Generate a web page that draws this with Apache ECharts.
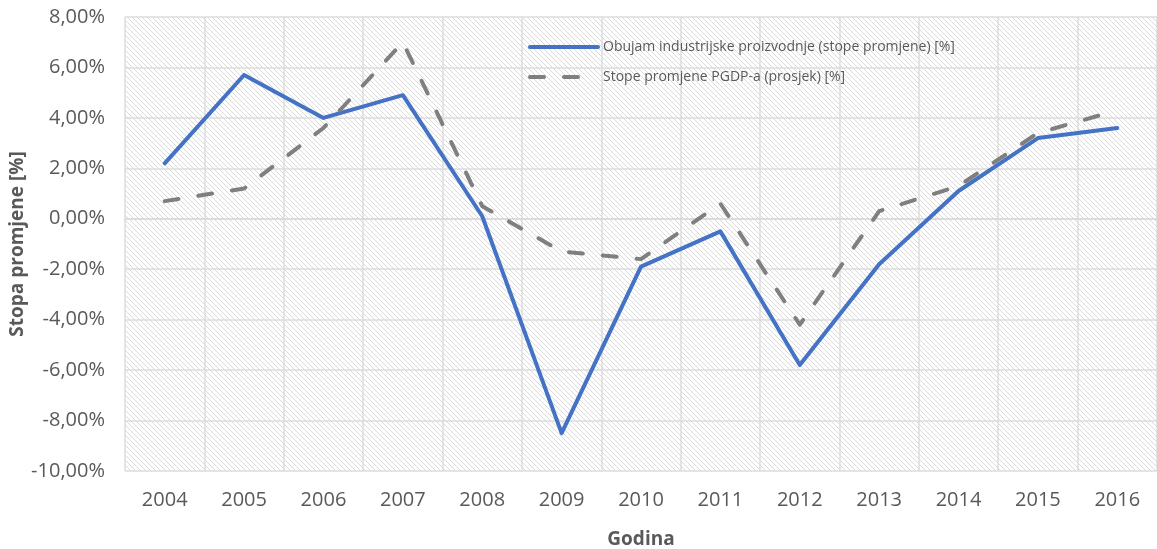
<!DOCTYPE html>
<html>
<head>
<meta charset="utf-8">
<script src="https://cdn.jsdelivr.net/npm/echarts@6/dist/echarts.min.js"></script>
<style>
  html, body { margin: 0; padding: 0; background: #fff; }
  #chart { width: 1157px; height: 549px; }
</style>
</head>
<body>
<div id="chart"></div>
<script>
// podaci
const godine = ['2004', '2005', '2006', '2007', '2008', '2009', '2010', '2011', '2012', '2013', '2014', '2015', '2016'];
const industrija = [2.2, 5.7, 4.0, 4.9, 0.1, -8.5, -1.9, -0.5, -5.8, -1.8, 1.1, 3.2, 3.6];
const pgdp = [0.7, 1.2, 3.6, 7.0, 0.5, -1.3, -1.6, 0.6, -4.2, 0.3, 1.3, 3.4, 4.3];
const nazivi = ['Obujam industrijske proizvodnje (stope promjene) [%]', 'Stope promjene PGDP-a (prosjek) [%]'];

// sraffura pozadine
function hatch() {
    let c = document.createElement('canvas');
    c.width = 5; c.height = 5;
    let ctx = c.getContext('2d');
    ctx.strokeStyle = '#dadada';
    ctx.lineWidth = 1;
    ctx.beginPath();
    ctx.moveTo(-1, -1); ctx.lineTo(6, 6);
    ctx.moveTo(-1, 4); ctx.lineTo(1, 6);
    ctx.moveTo(4, -1); ctx.lineTo(6, 1);
    ctx.stroke();
    return c;
}

const font = '"Open Sans", "Liberation Sans", sans-serif';
let chart = echarts.init(document.getElementById('chart'));
chart.setOption({
    animation: false,
    grid: {
        left: 125, right: 0, top: 17, bottom: 78,
        outerBoundsMode: 'none',
        show: true,
        borderWidth: 0,
        backgroundColor: { image: hatch(), repeat: 'repeat' }
    },
    legend: {
        orient: 'vertical',
        left: 523, top: 35,
        itemWidth: 68, itemHeight: 14,
        itemGap: 16,
        itemStyle: { opacity: 0 },
        lineStyle: { width: 4 },
        textStyle: { fontFamily: font, fontSize: 14, color: '#595959', padding: [0, 0, 0, 0] },
        data: nazivi
    },
    xAxis: {
        type: 'category',
        data: godine,
        boundaryGap: true,
        axisLine: { lineStyle: { color: '#d9d9d9', width: 1.5 } },
        axisTick: { show: false },
        splitLine: { show: true, lineStyle: { color: '#dcdcdc', width: 1.5 } },
        axisLabel: { fontFamily: font, fontSize: 20, color: '#595959', margin: 19 },
        name: 'Godina',
        nameLocation: 'middle',
        nameGap: 59,
        nameTextStyle: { fontFamily: font, fontSize: 19, fontWeight: 'bold', color: '#595959' }
    },
    yAxis: {
        type: 'value',
        min: -10, max: 8, interval: 2,
        axisLine: { show: false },
        axisTick: { show: false },
        splitLine: { lineStyle: { color: '#dcdcdc', width: 1.5 } },
        axisLabel: {
            fontFamily: font, fontSize: 20, color: '#595959', margin: 20,
            formatter: function (v) { return v.toFixed(2).replace('.', ',') + '%'; }
        },
        name: 'Stopa promjene [%]',
        nameLocation: 'middle',
        nameGap: 98,
        nameMoveOverlap: false,
        nameTextStyle: { fontFamily: font, fontSize: 19, fontWeight: 'bold', color: '#595959' }
    },
    series: [
        {
            name: nazivi[0],
            type: 'line',
            data: industrija,
            symbol: 'none',
            itemStyle: { color: '#4472c4' },
            lineStyle: { color: '#4472c4', width: 4, cap: 'round', join: 'round' }
        },
        {
            name: nazivi[1],
            type: 'line',
            data: pgdp,
            symbol: 'none',
            itemStyle: { color: '#7f7f7f' },
            lineStyle: { color: '#7f7f7f', width: 4, type: [14, 20], cap: 'round', join: 'round' }
        }
    ]
});
</script>
</body>
</html>
